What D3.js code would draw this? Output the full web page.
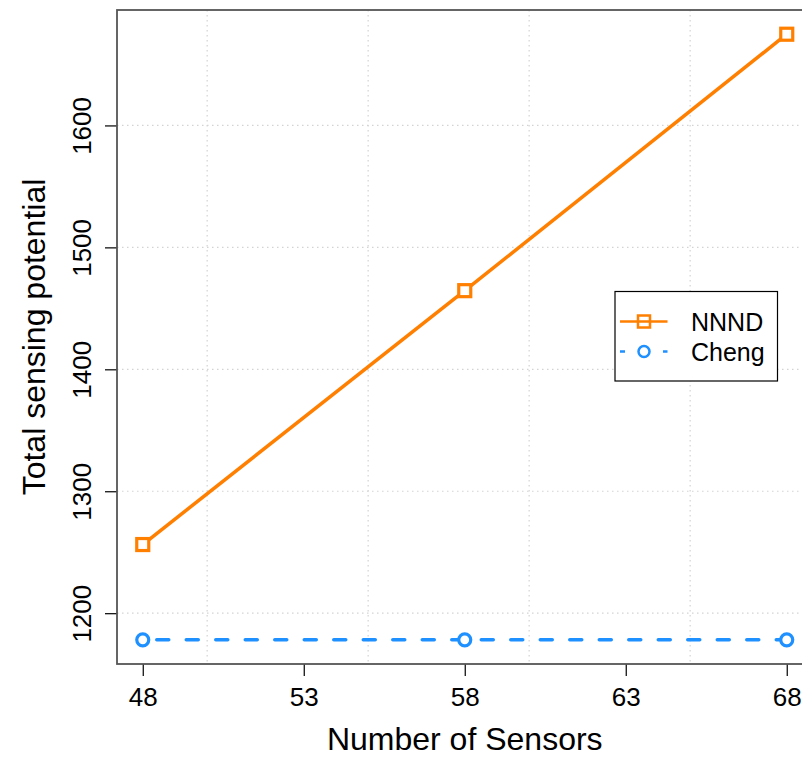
<!DOCTYPE html>
<html>
<head>
<meta charset="utf-8">
<script src="https://cdn.jsdelivr.net/npm/d3@7"></script>
<style>
  body { margin: 0; background: #fff; }
  svg { display: block; font-family: "Liberation Sans", Arial, Helvetica, sans-serif; }
</style>
</head>
<body>
<div id="chart"></div>
<script>
var sensors = [48, 58, 68];
var nnnd = [1256.3, 1464.5, 1674.8];
var cheng = [1178.2, 1178.2, 1178.2];
var xTicks = [48, 53, 58, 63, 68];
var yTicks = [1200, 1300, 1400, 1500, 1600];
var xGrid = [50, 55, 60, 65];
var seriesNames = ["NNND", "Cheng"];

var width = 802, height = 758;
var margin = { top: 10, right: -10.5, bottom: 94, left: 117 };

var svg = d3.select("#chart")
    .append("svg")
    .attr("width", width)
    .attr("height", height);

// R style axis extension: 4% either side
function extend(lo, hi) {
    var d = (hi - lo) * 0.04;
    return [lo - d, hi + d];
}

var x = d3.scaleLinear()
    .domain(extend(d3.min(sensors), d3.max(sensors)))
    .range([margin.left, width - margin.right]);

var allY = nnnd.concat(cheng);
var y = d3.scaleLinear()
    .domain(extend(d3.min(allY), d3.max(allY)))
    .range([height - margin.bottom, margin.top]);

// grid
svg.selectAll(".vgrid")
    .data(xGrid)
    .enter()
    .append("line")
    .attr("x1", function (d) { return x(d); })
    .attr("x2", function (d) { return x(d); })
    .attr("y1", margin.top)
    .attr("y2", height - margin.bottom)
    .attr("stroke", "#d3d3d3")
    .attr("stroke-width", 1.2)
    .attr("stroke-dasharray", "1.5,3.5");

svg.selectAll(".hgrid")
    .data(yTicks)
    .enter()
    .append("line")
    .attr("x1", margin.left)
    .attr("x2", width)
    .attr("y1", function (d) { return y(d); })
    .attr("y2", function (d) { return y(d); })
    .attr("stroke", "#d3d3d3")
    .attr("stroke-width", 1.2)
    .attr("stroke-dasharray", "1.5,3.5");

// x axis
var xAxis = svg.append("g")
    .attr("transform", "translate(0," + (height - margin.bottom) + ")")
    .call(d3.axisBottom(x).tickValues(xTicks).tickSize(12).tickPadding(12).tickFormat(d3.format("d")));
xAxis.select(".domain").remove();
xAxis.selectAll(".tick line").attr("stroke", "#000").attr("stroke-width", 1.2);
xAxis.selectAll(".tick text")
    .attr("fill", "#000")
    .style("font-size", "26px");

// y axis
var yAxis = svg.append("g")
    .attr("transform", "translate(" + margin.left + ",0)")
    .call(d3.axisLeft(y).tickValues(yTicks).tickSize(12).tickFormat(d3.format("d")));
yAxis.select(".domain").remove();
yAxis.selectAll(".tick line").attr("stroke", "#000").attr("stroke-width", 1.2);
yAxis.selectAll(".tick text")
    .attr("fill", "#000")
    .attr("x", null)
    .attr("dy", null)
    .attr("text-anchor", "middle")
    .attr("transform", "translate(-26.3,0) rotate(-90)")
    .style("font-size", "26px");

// plot box
svg.append("rect")
    .attr("x", margin.left)
    .attr("y", margin.top)
    .attr("width", x.range()[1] - margin.left)
    .attr("height", height - margin.bottom - margin.top)
    .attr("fill", "none")
    .attr("stroke", "#555")
    .attr("stroke-width", 1.8);

// axis titles
svg.append("text")
    .attr("x", (x.range()[0] + x.range()[1]) / 2)
    .attr("y", 750)
    .attr("text-anchor", "middle")
    .style("font-size", "32px")
    .text("Number of Sensors");

svg.append("text")
    .attr("transform", "translate(45," + ((y.range()[0] + y.range()[1]) / 2) + ") rotate(-90)")
    .attr("text-anchor", "middle")
    .style("font-size", "32px")
    .text("Total sensing potential");

var line = d3.line()
    .x(function (d) { return x(d[0]); })
    .y(function (d) { return y(d[1]); });

var orange = "#ff7f00", blue = "#1e90ff";

// NNND
var dataN = sensors.map(function (s, i) { return [s, nnnd[i]]; });
svg.append("path")
    .datum(dataN)
    .attr("d", line)
    .attr("fill", "none")
    .attr("stroke", orange)
    .attr("stroke-width", 3.5);
svg.selectAll(".sq")
    .data(dataN)
    .enter()
    .append("rect")
    .attr("x", function (d) { return x(d[0]) - 6; })
    .attr("y", function (d) { return y(d[1]) - 6; })
    .attr("width", 12)
    .attr("height", 12)
    .attr("fill", "#fff")
    .attr("stroke", orange)
    .attr("stroke-width", 3.2);

// Cheng
var dataC = sensors.map(function (s, i) { return [s, cheng[i]]; });
svg.append("path")
    .datum(dataC)
    .attr("d", line)
    .attr("fill", "none")
    .attr("stroke", blue)
    .attr("stroke-width", 3.5)
    .attr("stroke-linecap", "round")
    .attr("stroke-dasharray", "12,17.5")
    .attr("stroke-dashoffset", -14);
svg.selectAll(".circ")
    .data(dataC)
    .enter()
    .append("circle")
    .attr("cx", function (d) { return x(d[0]); })
    .attr("cy", function (d) { return y(d[1]); })
    .attr("r", 6)
    .attr("fill", "#fff")
    .attr("stroke", blue)
    .attr("stroke-width", 3.2);

// legend
var lg = svg.append("g");
lg.append("rect")
    .attr("x", 615)
    .attr("y", 291.5)
    .attr("width", 162.5)
    .attr("height", 89.5)
    .attr("fill", "#fff")
    .attr("stroke", "#000")
    .attr("stroke-width", 1.2);

var legendRows = [
    { name: seriesNames[0], color: orange, dash: null, y: 321.5 },
    { name: seriesNames[1], color: blue, dash: "5,38", y: 351.5 }
];
legendRows.forEach(function (r, i) {
    lg.append("line")
        .attr("x1", 620).attr("x2", 667.5)
        .attr("y1", r.y).attr("y2", r.y)
        .attr("stroke", r.color)
        .attr("stroke-width", 2.5)
        .attr("stroke-dasharray", r.dash);
    if (i == 0) {
        lg.append("rect")
            .attr("x", 638).attr("y", r.y - 6)
            .attr("width", 12).attr("height", 12)
            .attr("fill", "none")
            .attr("stroke", r.color)
            .attr("stroke-width", 2.5);
    } else {
        lg.append("circle")
            .attr("cx", 644).attr("cy", r.y)
            .attr("r", 5.5)
            .attr("fill", "none")
            .attr("stroke", r.color)
            .attr("stroke-width", 2.5);
    }
    lg.append("text")
        .attr("x", 691)
        .attr("y", r.y)
        .attr("dy", "0.36em")
        .style("font-size", "25px")
        .text(r.name);
});
</script>
</body>
</html>
